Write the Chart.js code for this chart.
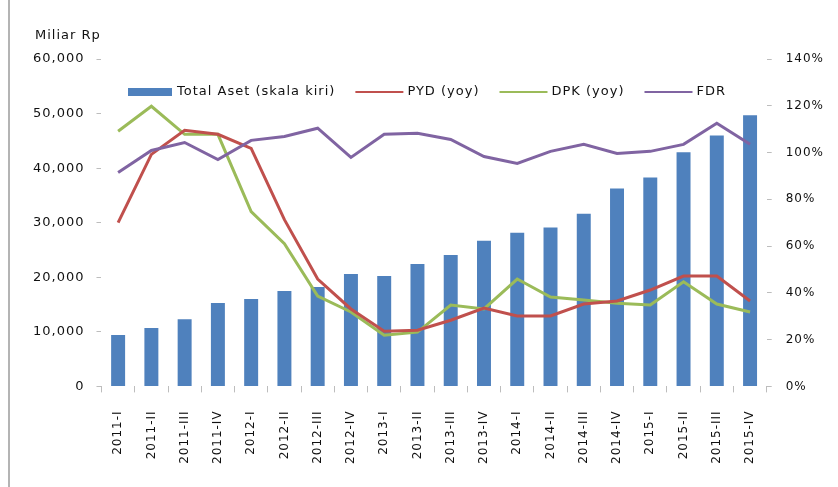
<!DOCTYPE html>
<html>
<head>
<meta charset="utf-8">
<script src="https://cdn.jsdelivr.net/npm/chart.js@4.4.0/dist/chart.umd.min.js"></script>
<style>
  html, body { margin: 0; padding: 0; background: #fff; }
  #wrap { position: relative; width: 838px; height: 487px; }
  #chart { display: block; }
  #edge { position: absolute; left: 8px; top: 0; width: 2px; height: 487px; background: #b4b4b4; }
</style>
</head>
<body>
<div id="wrap">
  <canvas id="chart" width="838" height="487"></canvas>
  <div id="edge"></div>
</div>
<script>
const quarters = [
  "2011-I", "2011-II", "2011-III", "2011-IV",
  "2012-I", "2012-II", "2012-III", "2012-IV",
  "2013-I", "2013-II", "2013-III", "2013-IV",
  "2014-I", "2014-II", "2014-III", "2014-IV",
  "2015-I", "2015-II", "2015-III", "2015-IV"
];
// Miliar Rp
const totalAset = [9400, 10700, 12300, 15300, 16000, 17500, 18200, 20600, 20250, 22450,
  24100, 26700, 28150, 29100, 31650, 36250, 38300, 42900, 46000, 49700];
// percent
const pyd = [70.0, 99.2, 109.5, 107.8, 101.8, 71.3, 45.9, 33.1, 23.6, 24.0,
  28.3, 33.5, 30.1, 30.1, 35.2, 36.5, 41.2, 47.2, 47.2, 36.5];
const dpk = [109.1, 119.8, 107.8, 107.8, 74.7, 61.0, 38.6, 31.8, 21.9, 23.2,
  34.8, 33.1, 45.9, 38.2, 36.9, 35.6, 34.8, 44.7, 35.2, 31.8];
const fdr = [91.5, 100.9, 104.3, 97.0, 105.2, 106.9, 110.4, 97.9, 107.8, 108.2,
  105.6, 98.3, 95.3, 100.5, 103.5, 99.6, 100.5, 103.5, 112.5, 103.5];

const txt = "#111";
const font12 = { family: "DejaVu Sans", size: 12 };
const font13 = { family: "DejaVu Sans", size: 13 };

// the original text is a bit stretched, so widen the letters a little
const spacing = {
  id: "spacing",
  beforeLayout(chart) { chart.ctx.letterSpacing = "1px"; },
  beforeDraw(chart) { chart.ctx.letterSpacing = "1px"; }
};

// axis title + legend row drawn inside the plot, like the excel original
const extras = {
  id: "extras",
  afterDraw(chart) {
    const ctx = chart.ctx;
    ctx.save();
    ctx.letterSpacing = "1px";
    ctx.font = "13px 'DejaVu Sans'";
    ctx.fillStyle = txt;
    ctx.textBaseline = "middle";
    ctx.fillText("Miliar Rp", 35, 36);

    let x = 128;
    const y = 92;
    chart.data.datasets.forEach(ds => {
      if (ds.type === "bar") {
        ctx.fillStyle = ds.backgroundColor;
        ctx.fillRect(x, y - 4, 44, 8);
        x += 49;
      } else {
        ctx.strokeStyle = ds.borderColor;
        ctx.lineWidth = 2;
        ctx.beginPath();
        ctx.moveTo(x, y);
        ctx.lineTo(x + 48, y);
        ctx.stroke();
        x += 52;
      }
      ctx.fillStyle = txt;
      ctx.fillText(ds.label, x, y);
      x += ctx.measureText(ds.label).width + 20;
    });
    ctx.restore();
  }
};

new Chart(document.getElementById("chart"), {
  data: {
    labels: quarters,
    datasets: [
      {
        type: "bar",
        label: "Total Aset (skala kiri)",
        data: totalAset,
        backgroundColor: "#4f81bd",
        borderWidth: 0,
        yAxisID: "y",
        categoryPercentage: 1,
        barPercentage: 0.42,
        order: 5
      },
      {
        type: "line",
        label: "PYD (yoy)",
        data: pyd,
        borderColor: "#c0504d",
        borderWidth: 3,
        pointRadius: 0,
        tension: 0,
        yAxisID: "y1",
        order: 2
      },
      {
        type: "line",
        label: "DPK (yoy)",
        data: dpk,
        borderColor: "#9bbb59",
        borderWidth: 3,
        pointRadius: 0,
        tension: 0,
        yAxisID: "y1",
        order: 3
      },
      {
        type: "line",
        label: "FDR",
        data: fdr,
        borderColor: "#8064a2",
        borderWidth: 3,
        pointRadius: 0,
        tension: 0,
        yAxisID: "y1",
        order: 1
      }
    ]
  },
  options: {
    responsive: false,
    animation: false,
    layout: { padding: { left: 21, right: 0, top: 59, bottom: 5 } },
    plugins: {
      legend: { display: false },
      tooltip: { enabled: false }
    },
    scales: {
      x: {
        grid: { display: true, drawOnChartArea: false, tickLength: 6, color: "#bdbdbd" },
        border: { display: false },
        ticks: { color: txt, font: font12, minRotation: 90, maxRotation: 90, padding: 18, autoSkip: false }
      },
      y: {
        position: "left",
        min: 0,
        max: 60000,
        grid: { display: true, drawOnChartArea: false, tickLength: 5, color: "#bdbdbd" },
        border: { display: false },
        ticks: {
          stepSize: 10000,
          color: txt,
          font: font13,
          padding: 12,
          callback: v => v.toLocaleString("en-US")
        }
      },
      y1: {
        position: "right",
        min: 0,
        max: 140,
        grid: { display: true, drawOnChartArea: false, tickLength: 5, color: "#bdbdbd" },
        border: { display: false },
        ticks: {
          stepSize: 20,
          color: txt,
          font: font12,
          padding: 14,
          callback: v => v + "%"
        }
      }
    }
  },
  plugins: [spacing, extras]
});
</script>
</body>
</html>
